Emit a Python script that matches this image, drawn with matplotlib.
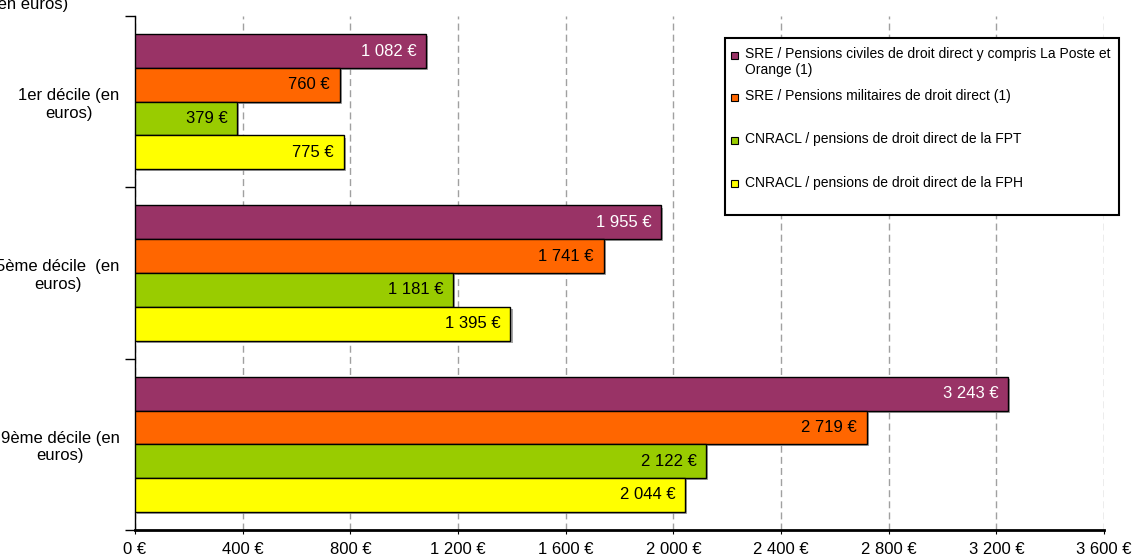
import matplotlib.pyplot as plt
import matplotlib.patheffects as pe
from matplotlib.patches import Rectangle

plt.rcParams['font.family'] = ['Liberation Sans', 'DejaVu Sans']

# data
categories = ["1er décile (en\neuros)", "5ème décile  (en\neuros)", "9ème décile (en\neuros)"]
series = [
    "SRE / Pensions civiles de droit direct y compris La Poste et\nOrange (1)",
    "SRE / Pensions militaires de droit direct (1)",
    "CNRACL / pensions de droit direct de la FPT",
    "CNRACL / pensions de droit direct de la FPH",
]
civiles = [1082, 1955, 3243]
militaires = [760, 1741, 2719]
fpt = [379, 1181, 2122]
fph = [775, 1395, 2044]
values = [civiles, militaires, fpt, fph]
colors = ["#993366", "#FF6600", "#99CC00", "#FFFF00"]
text_colors = ["white", "black", "black", "black"]
xticks = list(range(0, 3601, 400))


def fmt(v):
    return f"{v:,}".replace(",", " ") + " €"


W, H = 1136, 558
fig = plt.figure(figsize=(W / 100, H / 100), dpi=100)
ax = fig.add_axes([135 / W, 28 / H, (1104 - 135) / W, (530 - 16) / H])

bh = 0.197
offsets = [-0.2955, -0.0985, 0.0985, 0.2955]
shadow = [pe.SimplePatchShadow(offset=(1.5, -1.5), shadow_rgbFace="#909090", alpha=0.8), pe.Normal()]
for j, (vals, c, tc) in enumerate(zip(values, colors, text_colors)):
    ys = [i + offsets[j] for i in range(len(categories))]
    bars = ax.barh(ys, vals, height=bh, color=c, edgecolor="black", linewidth=1, zorder=3)
    for b in bars:
        b.set_path_effects(shadow)
    for y, v in zip(ys, vals):
        ax.annotate(fmt(v), (v, y), xytext=(-7, 0), textcoords="offset points",
                    ha="right", va="center", color=tc, fontsize=12, zorder=4)

ax.set_xlim(0, 3600)
ax.set_ylim(2.5, -0.5)
ax.set_xticks(xticks)
ax.set_xticklabels([fmt(v) for v in xticks], fontsize=12)
ax.tick_params(axis="x", length=3, pad=6, direction="out")
ax.grid(axis="x", color="#a0a0a0", linestyle=(0, (5, 3)), linewidth=1, zorder=0)

ax.set_yticks([-0.5, 0.5, 1.5, 2.5])
ax.set_yticklabels([])
ax.tick_params(axis="y", length=7, direction="out", width=1)
ax.set_yticks(range(len(categories)), minor=True)
ax.set_yticklabels(categories, minor=True, fontsize=12, multialignment="center")
ax.tick_params(axis="y", which="minor", length=0, pad=11)

for s in ["top", "right"]:
    ax.spines[s].set_visible(False)
ax.spines["bottom"].set_linewidth(2)
ax.spines["left"].set_linewidth(1)

fig.text(68 / W, 1 - 9 / H, "(en euros)", ha="right", va="baseline", fontsize=12)

# legend box drawn by hand
fig.patches.append(Rectangle((725 / W, 1 - 215 / H), (1119 - 725) / W, (215 - 38) / H,
                             transform=fig.transFigure, facecolor="white",
                             edgecolor="black", linewidth=1.5, zorder=5))
leg_y = [55, 97, 140, 184]
for lab, c, y in zip(series, colors, leg_y):
    fig.patches.append(Rectangle((731 / W, 1 - (y + 3.5) / H), 7 / W, 7 / H,
                                 transform=fig.transFigure, facecolor=c,
                                 edgecolor="black", linewidth=0.8, zorder=6))
    fig.text(745 / W, 1 - (y - 8) / H, lab, ha="left", va="top", fontsize=10,
             linespacing=1.15, zorder=7)

fig.savefig("out.png", dpi=100)
